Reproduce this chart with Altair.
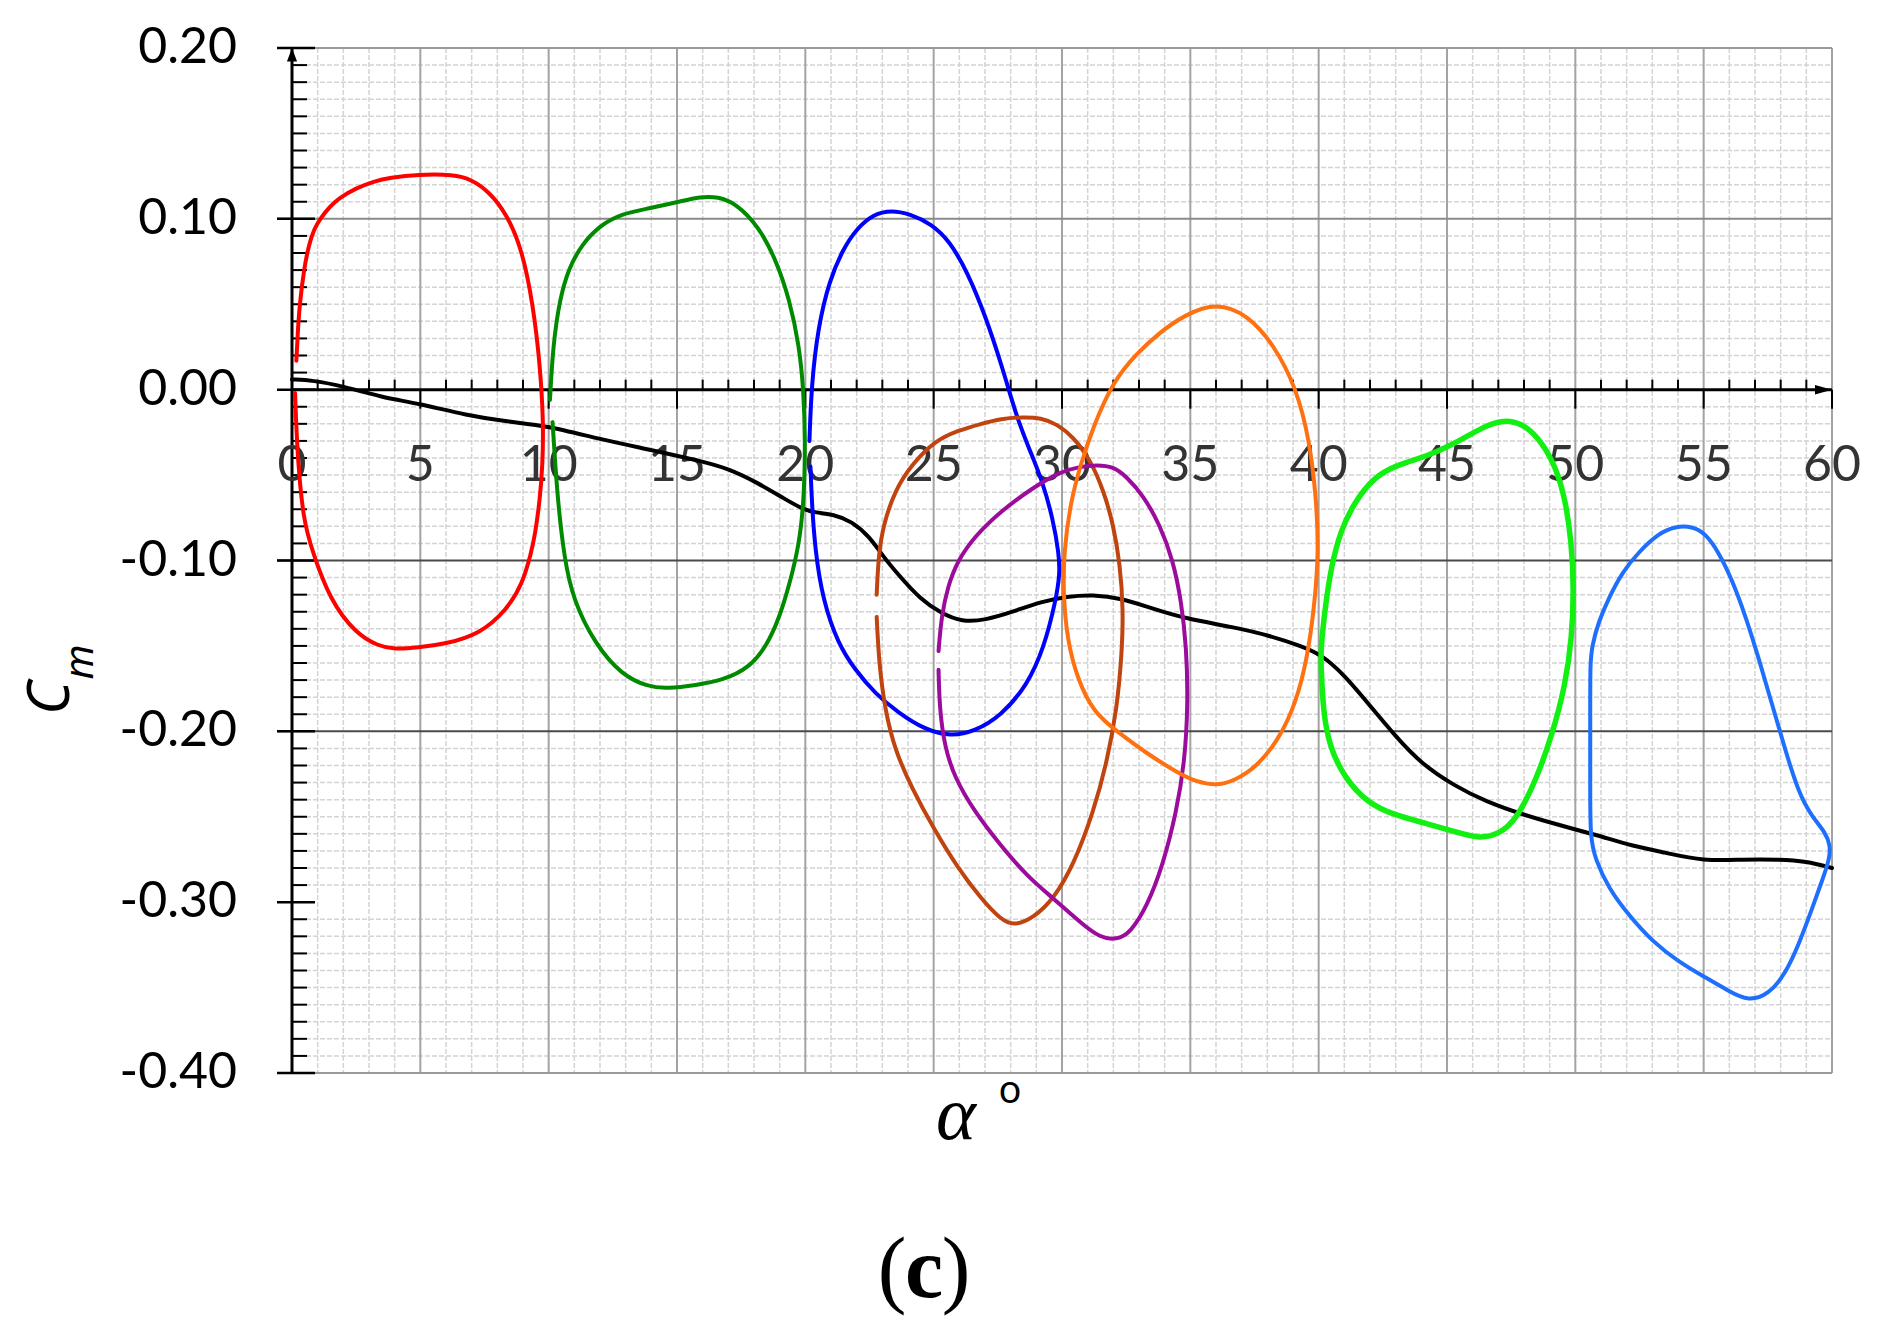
import altair as alt
import pandas as pd

W, H = 1540, 1025

# ---------------- axis ticks / labels ----------------
x_ticks = [0, 5, 10, 15, 20, 25, 30, 35, 40, 45, 50, 55, 60]
x_labels = ["0", "5", "10", "15", "20", "25", "30", "35", "40", "45", "50", "55", "60"]
x_major_grid = [5, 10, 15, 20, 25, 30, 35, 40, 45, 50, 55, 60]
x_minor = [v for v in range(1, 60) if v % 5]
y_ticks = [0.20, 0.10, 0.00, -0.10, -0.20, -0.30, -0.40]
y_labels = ["0.20", "0.10", "0.00", "-0.10", "-0.20", "-0.30", "-0.40"]
y_minor = [round(-0.40 + 0.01 * k, 2) for k in range(61) if k % 10]
y_grid = [0.20, 0.10, -0.10, -0.20, -0.40]
y_grid_col = ["#9a9a9a", "#8a8a8a", "#4a4a4a", "#4a4a4a", "#9a9a9a"]

# ---------------- curves (alpha in deg, Cm) ----------------
black_a = [0, 0.8, 2.0, 3.5, 4.9, 6.8, 8.5, 9.9, 12.0, 13.9, 15.7, 17.0, 18.2, 19.2, 19.9, 20.4,
           21.1, 21.8, 22.5, 23.0, 23.6, 24.5, 25.3, 26.1, 27.0, 28.1, 29.2, 30.2, 31.2, 32.3,
           33.5, 34.8, 36.7, 38.1, 39.3, 40.1, 41.0, 42.0, 43.0, 44.0, 45.3, 46.5, 48.0, 49.4,
           50.9, 52.2, 53.5, 55.0, 56.5, 57.9, 59.0, 60.0]
black_c = [0.006, 0.0055, 0.002, -0.0045, -0.008, -0.015, -0.019, -0.021, -0.029, -0.035, -0.041,
           -0.046, -0.055, -0.064, -0.070, -0.072, -0.073, -0.077, -0.086, -0.097, -0.108, -0.123,
           -0.131, -0.136, -0.135, -0.130, -0.124, -0.121, -0.120, -0.122, -0.128, -0.134, -0.139,
           -0.144, -0.150, -0.155, -0.167, -0.185, -0.203, -0.219, -0.232, -0.241, -0.249, -0.255,
           -0.261, -0.267, -0.271, -0.276, -0.275, -0.275, -0.276, -0.280]

# open loops (a small gap where each cycle starts and ends)
red_a = [0.17, 0.22, 0.29, 0.47, 0.66, 0.86, 1.09, 1.47, 1.81, 2.5, 3.2, 3.8, 4.9, 6.3, 7.0, 7.67,
         8.36, 8.97, 9.4, 9.66, 9.8, 9.76, 9.66, 9.47, 9.31, 8.97, 8.36, 7.33, 5.95, 4.91, 3.97,
         3.36, 2.5, 1.47, 0.78, 0.44, 0.23, 0.15, 0.12]
red_c = [0.017, 0.032, 0.049, 0.071, 0.085, 0.094, 0.100, 0.107, 0.112, 0.118, 0.122, 0.124,
         0.126, 0.126, 0.123, 0.116, 0.103, 0.082, 0.049, 0.015, -0.019, -0.045, -0.064, -0.085,
         -0.096, -0.114, -0.129, -0.143, -0.149, -0.151, -0.152, -0.150, -0.143, -0.123, -0.094,
         -0.076, -0.042, -0.015, -0.002]

green_a = [10.05, 10.17, 10.43, 10.78, 11.29, 11.98, 12.84, 13.88, 15.09, 15.91, 16.6, 17.3, 18.16,
           18.86, 19.38, 19.76, 19.93, 20.0, 19.95, 19.76, 19.38, 19.0, 18.5, 17.8, 16.8, 15.74,
           14.6, 13.88, 12.84, 11.81, 10.95, 10.6, 10.35, 10.22, 10.15]
green_c = [-0.006, 0.026, 0.053, 0.071, 0.085, 0.096, 0.103, 0.106, 0.110, 0.113, 0.113, 0.109,
           0.096, 0.076, 0.053, 0.026, 0.0, -0.030, -0.064, -0.091, -0.114, -0.133, -0.150, -0.163,
           -0.170, -0.173, -0.175, -0.174, -0.167, -0.149, -0.123, -0.098, -0.064, -0.035, -0.019]

blue_a = [20.16, 20.24, 20.5, 20.94, 21.46, 21.98, 22.67, 23.36, 24.06, 24.92, 25.62, 26.31, 27.0,
          27.7, 28.21, 28.73, 29.25, 29.65, 29.88, 29.92, 29.75, 29.3, 28.65, 27.62, 26.59, 25.68,
          24.65, 23.62, 22.72, 21.94, 21.28, 20.68, 20.38, 20.25, 20.2]
blue_c = [-0.030, 0.003, 0.037, 0.064, 0.082, 0.094, 0.103, 0.105, 0.103, 0.097, 0.087, 0.069,
          0.044, 0.012, -0.015, -0.035, -0.054, -0.076, -0.096, -0.108, -0.124, -0.151, -0.173,
          -0.191, -0.200, -0.203, -0.199, -0.189, -0.178, -0.164, -0.149, -0.123, -0.094, -0.065,
          -0.045]

brown_a = [22.78, 22.87, 23.1, 23.49, 24.14, 25.04, 25.94, 26.85, 27.6, 28.14, 28.9, 29.68, 30.46,
           31.23, 31.75, 32.14, 32.33, 32.39, 32.26, 32.0, 31.62, 31.1, 30.46, 29.8, 29.17, 28.52,
           27.62, 26.85, 25.94, 25.04, 24.14, 23.49, 23.04, 22.85, 22.78]
brown_c = [-0.133, -0.160, -0.187, -0.211, -0.233, -0.258, -0.280, -0.298, -0.310, -0.314, -0.309,
           -0.298, -0.278, -0.247, -0.218, -0.187, -0.155, -0.129, -0.102, -0.079, -0.059, -0.041,
           -0.028, -0.020, -0.0165, -0.016, -0.017, -0.020, -0.024, -0.030, -0.044, -0.059, -0.079,
           -0.097, -0.120]

purple_a = [25.19, 25.23, 25.43, 25.81, 26.59, 27.62, 28.65, 29.68, 30.72, 31.49, 32.14, 32.65,
            33.3, 33.94, 34.46, 34.78, 34.91, 34.85, 34.65, 34.33, 33.81, 33.17, 32.52, 32.0, 31.36,
            30.72, 29.94, 28.9, 27.62, 26.59, 25.94, 25.55, 25.3, 25.19]
purple_c = [-0.164, -0.187, -0.209, -0.227, -0.247, -0.267, -0.285, -0.298, -0.312, -0.321, -0.322,
            -0.318, -0.303, -0.278, -0.247, -0.218, -0.184, -0.151, -0.124, -0.100, -0.079, -0.062,
            -0.051, -0.045, -0.044, -0.045, -0.048, -0.057, -0.071, -0.086, -0.100, -0.115, -0.133,
            -0.153]

# closed loops
orange_a = [36.01, 37.23, 38.27, 39.13, 39.65, 39.91, 40.0, 39.83, 39.57, 39.13, 38.44, 37.57,
            36.7, 36.01, 35.15, 34.59, 33.3, 32.14, 31.23, 30.59, 30.2, 30.05, 30.07, 30.33, 30.72,
            31.23, 32.0, 32.9, 33.76, 34.8]
orange_c = [0.051, 0.044, 0.026, 0.001, -0.030, -0.064, -0.096, -0.127, -0.156, -0.183, -0.205,
            -0.221, -0.229, -0.232, -0.229, -0.225, -0.213, -0.200, -0.189, -0.169, -0.146, -0.120,
            -0.095, -0.066, -0.044, -0.021, 0.005, 0.021, 0.033, 0.044]

lime_a = [40.09, 40.17, 40.42, 41.0, 41.9, 42.93, 44.22, 45.37, 46.27, 47.04, 47.69, 48.46, 49.1,
          49.61, 49.87, 49.94, 49.85, 49.61, 49.23, 48.71, 48.07, 47.43, 46.92, 46.27, 45.24,
          44.22, 43.06, 42.16, 41.39, 40.87, 40.49, 40.23, 40.08]
lime_c = [-0.160, -0.188, -0.209, -0.227, -0.242, -0.249, -0.254, -0.259, -0.263, -0.260, -0.252,
          -0.229, -0.202, -0.173, -0.145, -0.116, -0.089, -0.064, -0.045, -0.031, -0.021, -0.018,
          -0.019, -0.023, -0.032, -0.039, -0.044, -0.051, -0.066, -0.082, -0.103, -0.130, -0.153]

sky_a = [50.58, 50.65, 50.9, 51.3, 51.82, 52.47, 53.25, 53.9, 54.55, 55.06, 55.58, 56.1, 56.62,
         57.14, 57.66, 58.18, 58.7, 59.22, 59.74, 59.94, 59.9, 59.6, 59.22, 58.7, 58.18, 57.53,
         56.75, 55.97, 55.06, 54.03, 53.0, 52.1, 51.3, 50.78, 50.58, 50.58, 50.58]
sky_c = [-0.160, -0.150, -0.136, -0.122, -0.107, -0.095, -0.084, -0.080, -0.080, -0.084, -0.095,
         -0.111, -0.132, -0.157, -0.184, -0.211, -0.236, -0.250, -0.259, -0.267, -0.275, -0.288,
         -0.304, -0.325, -0.342, -0.354, -0.358, -0.352, -0.344, -0.335, -0.323, -0.308, -0.292,
         -0.275, -0.262, -0.236, -0.185]

open_series = [
    ("red", "#ff0000", red_a, red_c),
    ("green", "#008a00", green_a, green_c),
    ("blue", "#0000ff", blue_a, blue_c),
    ("brown", "#c0440f", brown_a, brown_c),
    ("purple", "#9c0c9c", purple_a, purple_c),
]
closed_series = [
    ("orange", "#ff7010", orange_a, orange_c),
    ("sky", "#1f6fff", sky_a, sky_c),
]


def frame(series_list):
    rows = []
    for name, col, aa, cc in series_list:
        for i, (a, c) in enumerate(zip(aa, cc)):
            rows.append({"s": name, "col": col, "i": i, "a": a, "c": c})
    return pd.DataFrame(rows)


open_df = frame(open_series)
closed_df = frame(closed_series)
lime_df = frame([("lime", "#11f011", lime_a, lime_c)])
black_df = frame([("static", "#000000", black_a, black_c)])

xs = alt.Scale(domain=[0, 60], nice=False, zero=False)
ys = alt.Scale(domain=[-0.4, 0.2], nice=False, zero=False)


def X(f):
    return alt.X(f, type="quantitative", scale=xs, axis=None)


def Y(f):
    return alt.Y(f, type="quantitative", scale=ys, axis=None)


vminor = alt.Chart(pd.DataFrame({"a": x_minor})).mark_rule(
    color="#d4d4d4", strokeWidth=1.5, strokeDash=[5, 2]).encode(
    x=X("a"), y=alt.value(0), y2=alt.value(H))
hminor = alt.Chart(pd.DataFrame({"c": y_minor})).mark_rule(
    color="#d4d4d4", strokeWidth=1.5, strokeDash=[5, 2]).encode(
    x=alt.value(0), x2=alt.value(W), y=Y("c"))
vmajor = alt.Chart(pd.DataFrame({"a": x_major_grid})).mark_rule(
    color="#a3a3a3", strokeWidth=2).encode(x=X("a"), y=alt.value(0), y2=alt.value(H))
hmajor = alt.Chart(pd.DataFrame({"c": y_grid, "col": y_grid_col})).mark_rule(strokeWidth=2).encode(
    x=alt.value(-15), x2=alt.value(W), y=Y("c"), color=alt.Color("col:N", scale=None))

ytick_major = alt.Chart(pd.DataFrame({"c": y_ticks})).mark_rule(color="black", strokeWidth=2.5).encode(
    x=alt.value(-15), x2=alt.value(23), y=Y("c"))
ytick_minor = alt.Chart(pd.DataFrame({"c": y_minor})).mark_rule(color="black", strokeWidth=2).encode(
    x=alt.value(0), x2=alt.value(15), y=Y("c"))
yaxis_line = alt.Chart(pd.DataFrame({"c": [-0.4], "c2": [0.2]})).mark_rule(color="black", strokeWidth=3).encode(
    x=alt.value(0), y=Y("c"), y2="c2")
xaxis_line = alt.Chart(pd.DataFrame({"c": [0.0]})).mark_rule(color="black", strokeWidth=3).encode(
    x=alt.value(0), x2=alt.value(W), y=Y("c"))
xtick_minor = alt.Chart(pd.DataFrame({"a": x_minor, "c": 0.0, "c2": 0.0})).mark_rule(
    color="black", strokeWidth=2, y2Offset=-10).encode(x=X("a"), y=Y("c"), y2="c2")
xtick_major = alt.Chart(pd.DataFrame({"a": x_major_grid, "c": 0.0, "c2": 0.0})).mark_rule(
    color="black", strokeWidth=2, y2Offset=19).encode(x=X("a"), y=Y("c"), y2="c2")

arrow_right = alt.Chart(pd.DataFrame({"a": [60], "c": [0.0]})).mark_point(
    shape="M0,0L-1.6,-0.45L-1.6,0.45Z", filled=True, color="black", size=450, opacity=1).encode(
    x=X("a"), y=Y("c"))
arrow_up = alt.Chart(pd.DataFrame({"a": [0], "c": [0.2]})).mark_point(
    shape="M0,0L-0.6,1.6L0.6,1.6Z", filled=True, color="black", size=285, opacity=1).encode(
    x=X("a"), y=Y("c"))

xlab = alt.Chart(pd.DataFrame({"a": x_ticks, "c": 0.0, "t": x_labels})).mark_text(
    font="Lato", fontSize=50, color="#333333", dy=76, align="center", baseline="middle").encode(
    x=X("a"), y=Y("c"), text="t:N")
ylab = alt.Chart(pd.DataFrame({"c": y_ticks, "t": y_labels})).mark_text(
    font="Lato", fontSize=50, color="black", align="right", baseline="middle").encode(
    x=alt.value(-55), y=Y("c"), text="t:N")


def curve(df, interp, width):
    return alt.Chart(df).mark_line(
        interpolate=interp, strokeWidth=width, strokeCap="round", strokeJoin="round").encode(
        x=X("a"), y=Y("c"), color=alt.Color("col:N", scale=None), detail="s:N", order="i:Q")


black_line = curve(black_df, "basis", 4)
open_lines = curve(open_df, "basis", 4)
closed_lines = curve(closed_df, "basis-closed", 4)
lime_line = curve(lime_df, "basis-closed", 5.5)


def label(txt, px, py, **kw):
    return alt.Chart(pd.DataFrame({"t": [txt]})).mark_text(color="black", **kw).encode(
        x=alt.value(px), y=alt.value(py), text="t:N")


t_C = label("C", -240, 650, font="Noto Sans", fontStyle="italic", fontSize=58, angle=270,
            align="center", baseline="middle")
t_m = label("m", -211, 614, font="Noto Sans", fontStyle="italic", fontSize=40, angle=270,
            align="center", baseline="middle")
t_alpha = label("α", 664, 1068, font="Liberation Serif", fontStyle="italic", fontSize=76,
                align="center", baseline="middle")
t_deg = label("o", 718, 1044, font="Noto Sans", fontSize=38, align="center", baseline="middle")
t_p1 = label("(", 600, 1249, font="Liberation Serif", fontSize=86, align="center", baseline="alphabetic")
t_c = label("c", 632, 1249, font="Liberation Serif", fontWeight="bold", fontSize=86,
            align="center", baseline="alphabetic")
t_p2 = label(")", 664, 1249, font="Liberation Serif", fontSize=86, align="center", baseline="alphabetic")

chart = alt.layer(
    hminor, vminor, vmajor, hmajor,
    ytick_minor, ytick_major, yaxis_line, xaxis_line, xtick_minor, xtick_major,
    arrow_right, arrow_up, xlab, ylab,
    black_line, open_lines, closed_lines, lime_line,
    t_C, t_m, t_alpha, t_deg, t_p1, t_c, t_p2,
).properties(
    width=W, height=H,
    padding={"left": 284, "top": 40, "right": 40, "bottom": 255},
    autosize=alt.AutoSizeParams(type="none"),
    background="white",
).configure_view(stroke=None)

chart.save("out.html", embed_options={"renderer": "svg", "actions": False})
